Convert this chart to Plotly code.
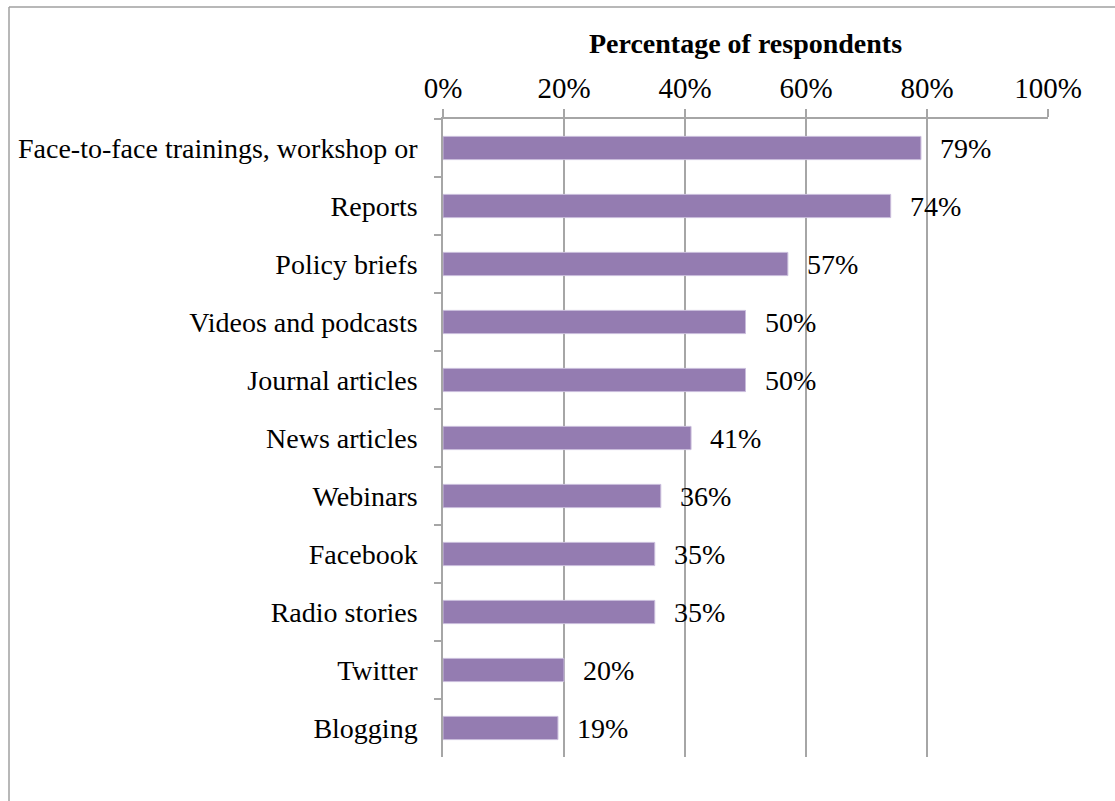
import plotly.graph_objects as go

# Survey results: preferred formats, share of respondents
categories = [
    "Face-to-face trainings, workshop or",
    "Reports",
    "Policy briefs",
    "Videos and podcasts",
    "Journal articles",
    "News articles",
    "Webinars",
    "Facebook",
    "Radio stories",
    "Twitter",
    "Blogging",
]
values = [79, 74, 57, 50, 50, 41, 36, 35, 35, 20, 19]
tick_values = [0, 20, 40, 60, 80, 100]
tick_labels = ["0%", "20%", "40%", "60%", "80%", "100%"]

W, H = 1115, 801
L, R, T, B = 443, 67, 119, 44
FONT = "Liberation Serif"
GRID = "#a6a6a6"
BAR = "#947cb1"

fig = go.Figure(
    go.Bar(
        x=values,
        y=categories,
        orientation="h",
        marker=dict(color=BAR, line=dict(color="#c9bcdb", width=1)),
        hoverinfo="x+y",
    )
)

# value labels beside each bar
for cat, v in zip(categories, values):
    fig.add_annotation(
        x=v, y=cat, xref="x", yref="y",
        text=f"{v}%", showarrow=False,
        xanchor="left", xshift=17,
        font=dict(family=FONT, size=28, color="#000000"),
    )

# outer frame of the chart area
pw = W - L - R
ph = H - T - B
def px_x(p):
    return (p - L) / pw
def px_y(p):
    return (H - B - p) / ph

fig.add_shape(type="line", xref="paper", yref="paper",
              x0=px_x(9), x1=px_x(W + 5), y0=px_y(7), y1=px_y(7),
              line=dict(color="#a0a0a0", width=1.5))
fig.add_shape(type="line", xref="paper", yref="paper",
              x0=px_x(9), x1=px_x(9), y0=px_y(7), y1=px_y(H + 5),
              line=dict(color="#a0a0a0", width=1.5))

fig.update_layout(
    width=W, height=H,
    margin=dict(l=L, r=R, t=T, b=B, pad=0),
    plot_bgcolor="white", paper_bgcolor="white",
    bargap=0.6,
    showlegend=False,
    font=dict(family=FONT, size=28, color="#000000"),
    xaxis=dict(
        side="top",
        range=[0, 100],
        tickvals=tick_values,
        ticktext=tick_labels,
        showgrid=True, gridcolor=GRID, gridwidth=1.5,
        showline=True, linecolor=GRID, linewidth=1.5,
        ticks="outside", ticklen=8, tickcolor=GRID, tickwidth=1.5,
        zeroline=False,
        tickfont=dict(family=FONT, size=29),
        title=dict(text="<b>Percentage of respondents</b>",
                   font=dict(family=FONT, size=28), standoff=10),
        fixedrange=True,
    ),
    yaxis=dict(
        autorange="reversed",
        type="category",
        showline=True, linecolor=GRID, linewidth=1.5,
        ticks="outside", ticklen=7, tickcolor=GRID, tickwidth=1.5,
        tickson="boundaries",
        showgrid=False,
        ticklabelstandoff=18,
        tickfont=dict(family=FONT, size=28),
        fixedrange=True,
    ),
)

fig.write_html("out.html")
